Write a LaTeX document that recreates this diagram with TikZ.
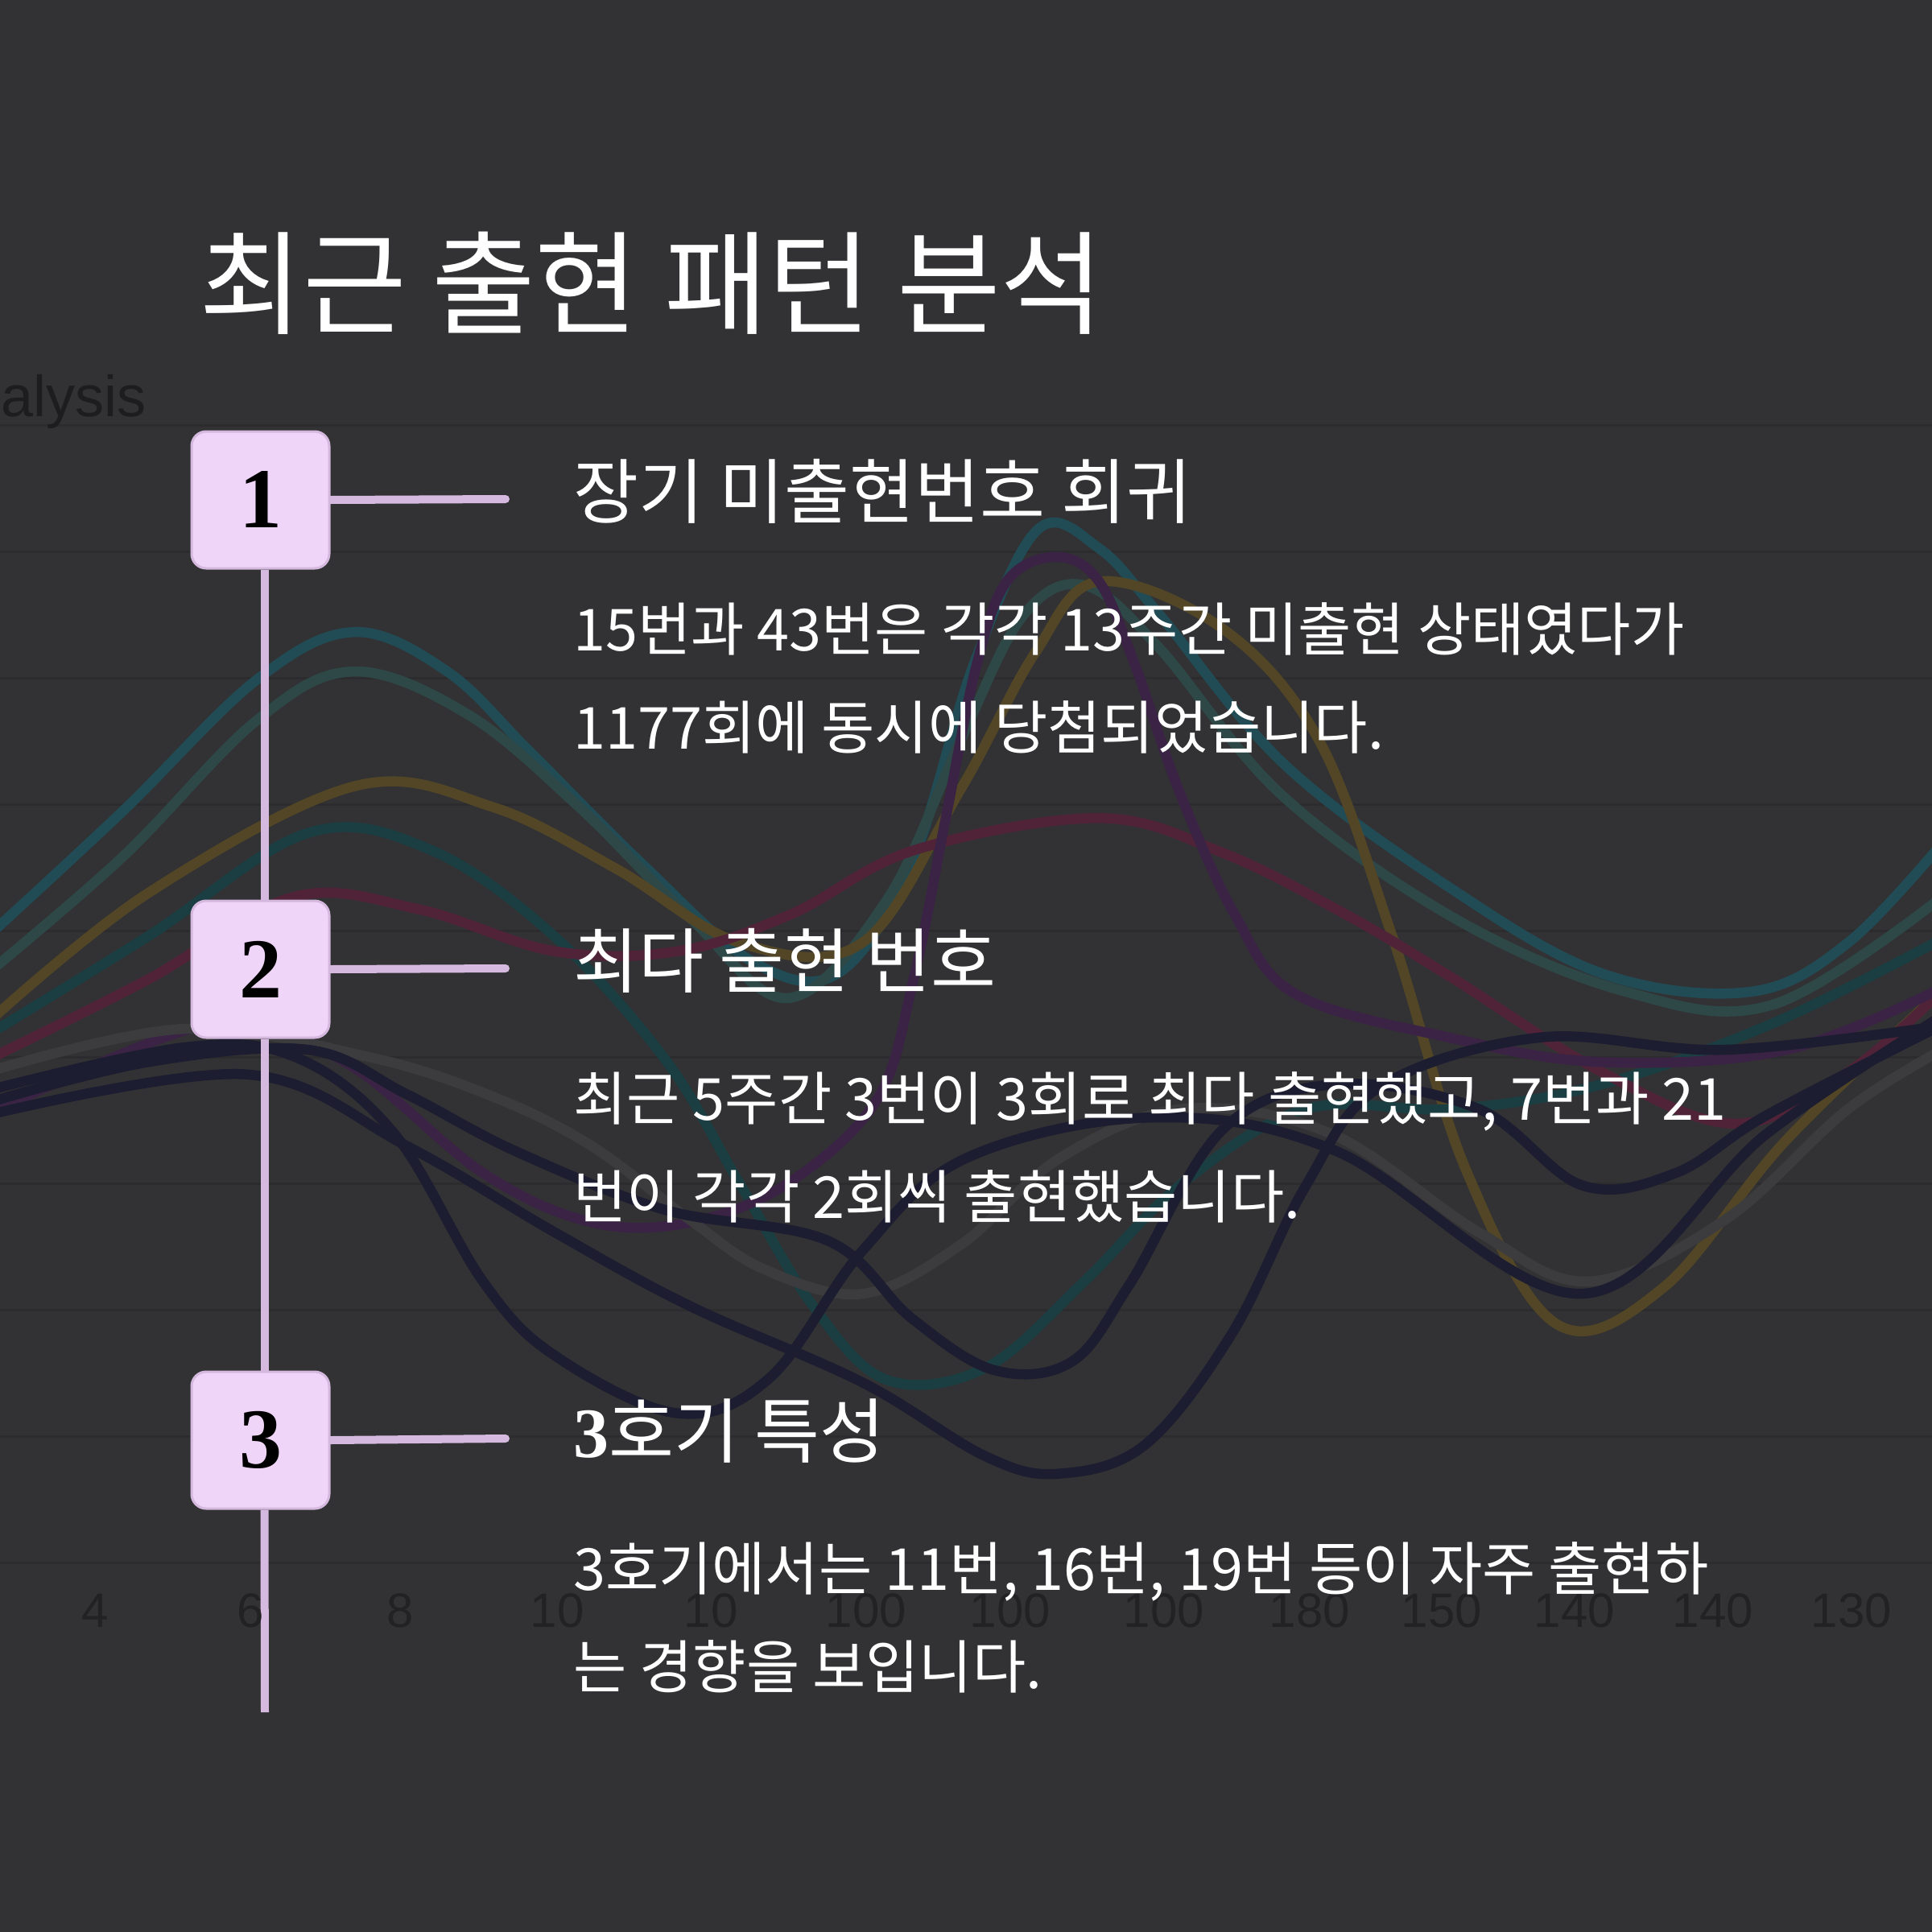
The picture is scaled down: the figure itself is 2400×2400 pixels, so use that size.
\documentclass[tikz,border=0pt]{standalone}
\usepackage{fontspec}
\setmainfont{Noto Sans CJK KR}
\newfontfamily\numfont{Liberation Serif}
\newfontfamily\axisfont{Liberation Sans}
\definecolor{bgc}{HTML}{323234}
\definecolor{gridc}{HTML}{2C2C2E}
\definecolor{axisc}{HTML}{222224}
\definecolor{boxfill}{HTML}{EFD5F7}
\definecolor{boxline}{HTML}{D5B8DE}
\definecolor{linec}{HTML}{D6B9DF}
\definecolor{tealA}{HTML}{214C56}
\definecolor{tealB}{HTML}{2E4848}
\definecolor{tealC}{HTML}{1B3E42}
\definecolor{yellowA}{HTML}{524626}
\definecolor{magA}{HTML}{502339}
\definecolor{purA}{HTML}{3A2344}
\definecolor{navyA}{HTML}{1C1D30}
\definecolor{grayA}{HTML}{3C3C3E}
\pgfdeclarelayer{bglayer}
\pgfdeclarelayer{midlayer}
\pgfsetlayers{bglayer,midlayer,main}
\tikzset{
  curve/.style={line width=12.5pt, line cap=round},
  numbox/.style={draw=boxline, line width=3pt, fill=boxfill, rounded corners=18pt,
    minimum width=171pt, minimum height=170pt, inner sep=0pt,
    font=\numfont\bfseries\fontsize{106}{106}\selectfont, text=black},
  conn/.style={draw=linec, line width=10pt, line cap=round},
  vline/.style={draw=linec, line width=10pt},
  titletext/.style={anchor=base west, inner sep=0pt, text=white, font=\fontsize{140}{150}\selectfont},
  headtext/.style={anchor=base west, inner sep=0pt, text=white, font=\fontsize{88}{96}\selectfont},
  bodytext/.style={anchor=base west, inner sep=0pt, text=white, font=\fontsize{72}{80}\selectfont},
  axislabel/.style={anchor=base, inner sep=0pt, text=axisc, font=\axisfont\fontsize{60}{60}\selectfont},
}
\begin{document}
\begin{tikzpicture}[x=1pt,y=-1pt]
\useasboundingbox (0,0) rectangle (2400,2400);
\begin{pgfonlayer}{bglayer}
\fill[bgc] (0,0) rectangle (2400,2400);
\foreach \k in {0,...,9}{
  \draw[gridc, line width=3pt] (0,{528+157.1*\k}) -- (2400,{528+157.1*\k});
}
\begin{scope}[scale=1.5306]
\draw[curve, tealA] plot[smooth, tension=0.6] coordinates {(-10,760) (100,658) (208,552) (287,513) (363,545) (430,610) (520,700) (610,780) (680,790) (740,700) (790,540) (842,430) (892,445) (942,500) (1042,620) (1176,720) (1300,790) (1420,805) (1500,765) (1580,680)};
\draw[curve, tealB] plot[smooth, tension=0.6] coordinates {(-10,790) (100,695) (208,585) (287,545) (380,580) (470,655) (560,745) (640,810) (720,730) (780,600) (830,500) (880,475) (940,525) (1040,645) (1180,745) (1320,805) (1440,815) (1580,725)};
\draw[curve, yellowA] plot[smooth, tension=0.6] coordinates {(-10,830) (120,725) (288,638) (400,655) (500,705) (600,765) (700,765) (780,640) (840,530) (892,472) (992,510) (1070,600) (1130,760) (1190,950) (1264,1075) (1350,1045) (1450,925) (1580,800)};
\draw[curve, tealC] plot[smooth, tension=0.6] coordinates {(-10,840) (120,760) (250,676) (350,690) (450,760) (540,860) (600,960) (660,1060) (720,1120) (800,1110) (880,1040) (960,960) (1060,900) (1180,900) (1300,880) (1440,830) (1580,760)};
\draw[curve, magA] plot[smooth, tension=0.6] coordinates {(-10,860) (120,795) (238,728) (340,738) (450,772) (550,772) (642,742) (742,690) (892,664) (992,692) (1092,742) (1176,792) (1300,870) (1409,912) (1500,870) (1580,800)};
\draw[curve, purA] plot[smooth, tension=0.6] coordinates {(-10,905) (175,830) (280,862) (392,952) (480,992) (560,992) (640,960) (712,892) (742,792) (767,667) (792,542) (817,472) (857,452) (892,472) (922,542) (957,642) (1002,742) (1052,807) (1176,842) (1300,862) (1450,852) (1580,800)};
\draw[curve, grayA] plot[smooth, tension=0.6] coordinates {(-10,870) (150,835) (300,858) (400,890) (480,930) (560,990) (620,1030) (700,1050) (780,1010) (860,940) (960,900) (1080,920) (1200,1000) (1290,1040) (1400,990) (1500,900) (1580,850)};
\draw[curve, navyA] plot[smooth, tension=0.6] coordinates {(-10,885) (150,850) (240,858) (320,920) (392,1040) (450,1100) (550,1147) (625,1118) (700,1015) (784,940) (934,907) (1084,934) (1284,1050) (1434,920) (1580,822)};
\draw[curve, navyA] plot[smooth, tension=0.6] coordinates {(-10,895) (120,862) (250,852) (330,888) (420,935) (540,982) (672,1007) (740,1070) (807,1112) (870,1105) (917,1042) (992,917) (1084,880) (1200,900) (1284,962) (1360,952) (1434,905) (1580,830)};
\draw[curve, navyA] plot[smooth, tension=0.6] coordinates {(-10,905) (200,872) (330,930) (450,1000) (560,1060) (700,1122) (800,1182) (860,1196) (930,1172) (1000,1082) (1060,962) (1120,882) (1250,842) (1400,852) (1580,832)};
\end{scope}
\end{pgfonlayer}
% faint chart texts
\node[anchor=base west, inner sep=0pt, text=axisc!85!black, font=\axisfont\fontsize{72}{72}\selectfont] (ttl) at (1,517) {alysis};
\foreach \xx/\lab [count=\i] in {118/4,311/6,497/8,692/10,883/10,1076/100,1255/100,1446/100,1627/180,1791/150,1956/140,2128/140,2300/130}{
  \node[axislabel] (ax\i) at (\xx,2021) {\lab};
}
% title
\node[titletext] (title) at (247,404) {최근 출현 패턴 분석};
% timeline
\node[numbox] (b1) at (323.5,621) {1};
\node[numbox] (b2) at (323.5,1204) {2};
\node[numbox] (b3) at (323.5,1789) {3};
\coordinate (vend) at (329,2127);
\coordinate (e1) at (628,620);
\coordinate (e2) at (628,1203);
\coordinate (e3) at (628,1787);
\begin{pgfonlayer}{midlayer}
\draw[vline] ([xshift=5pt]b1.south) -- ([xshift=5pt]b2.north);
\draw[vline] ([xshift=5pt]b2.south) -- ([xshift=5pt]b3.north);
\draw[vline] ([xshift=5pt]b3.south) -- (vend);
\draw[conn] (b1.east) -- (e1);
\draw[conn] (b2.east) -- (e2);
\draw[conn] (b3.east) -- (e3);
\end{pgfonlayer}
% headings
\node[headtext] (h1) at (712,643) {장기 미출현번호 회귀};
\node[headtext] (h2) at (712,1226) {최다 출현 번호};
\node[headtext] (h3) at (712,1810) {{\numfont\bfseries 3}호기 특성};
% body
\node[bodytext] (t11) at (712,808) {15번과 43번은 각각 13주간 미출현 상태였다가};
\node[bodytext] (t12) at (712,930) {1177회에 동시에 당첨되었습니다.};
\node[bodytext] (t21) at (712,1391) {최근 5주간 3번이 3회로 최다 출현했고, 7번과 21};
\node[bodytext] (t22) at (712,1513) {번이 각각 2회씩 출현했습니다.};
\node[bodytext] (t31) at (712,1975) {3호기에서는 11번, 16번, 19번 등이 자주 출현하};
\node[bodytext] (t32) at (712,2097) {는 경향을 보입니다.};
\end{tikzpicture}
\end{document}
